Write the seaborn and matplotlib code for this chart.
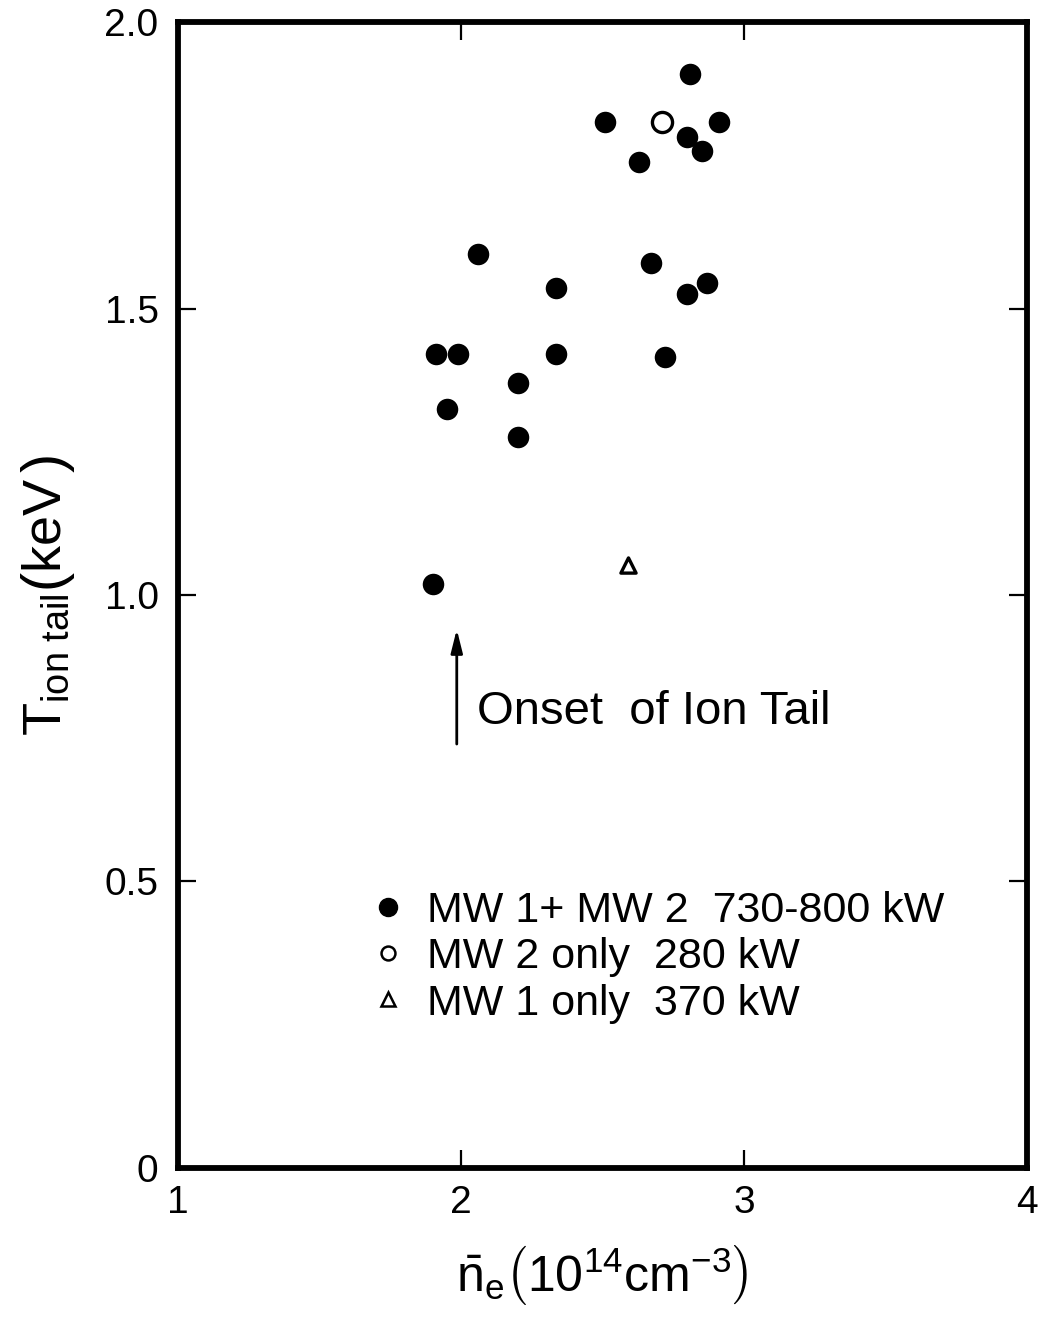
import io
import matplotlib
matplotlib.use("Agg")
import matplotlib.pyplot as plt
import seaborn as sns
import pandas as pd
from matplotlib.lines import Line2D
from matplotlib import mathtext

# ---- data ----
ne_both = [1.90, 1.91, 1.99, 1.95, 2.06, 2.20, 2.20, 2.335, 2.335, 2.51,
           2.63, 2.67, 2.72, 2.81, 2.80, 2.85, 2.91, 2.80, 2.87]
T_both = [1.02, 1.42, 1.42, 1.325, 1.595, 1.37, 1.275, 1.535, 1.42, 1.825,
          1.755, 1.58, 1.415, 1.91, 1.80, 1.775, 1.825, 1.525, 1.545]
ne_mw2 = [2.71]
T_mw2 = [1.825]
ne_mw1 = [2.59]
T_mw1 = [1.053]

labels = ["MW 1+ MW 2  730-800 kW", "MW 2 only  280 kW", "MW 1 only  370 kW"]
xticks = [1, 2, 3, 4]
yticks = [0, 0.5, 1.0, 1.5, 2.0]
yticklabels = ["0", "0.5", "1.0", "1.5", "2.0"]

sns.set_style("ticks")
plt.rcParams["font.family"] = ["Liberation Sans", "DejaVu Sans"]
plt.rcParams["mathtext.fontset"] = "custom"
plt.rcParams["mathtext.rm"] = "Liberation Sans"
plt.rcParams["mathtext.it"] = "Liberation Sans"
plt.rcParams["mathtext.sf"] = "Liberation Sans"
for k in ["text.color", "axes.labelcolor", "xtick.color", "ytick.color",
          "axes.edgecolor"]:
    plt.rcParams[k] = "black"


def pick(cands):
    for c in cands:
        try:
            mathtext.math_to_image(c, io.BytesIO(), dpi=50, format="png")
            return c
        except Exception:
            continue
    return cands[-1]


ylab = pick([
    r"$\mathrm{T}_{\mathrm{ion\ tail}}\left(\mathrm{keV}^{\,}_{\,}\right)$",
    r"$\mathrm{T}_{\mathrm{ion\ tail}}\left(\mathrm{keV}\right)$",
])
xlab = pick([
    r"$\bar{\mathrm{n}}_{\mathrm{e}}\left(10^{14}\mathrm{cm}^{-3}_{\,}\right)$",
    r"$\bar{\mathrm{n}}_{\mathrm{e}}\left(10^{14}\mathrm{cm}^{-3}\right)$",
])

fig = plt.figure(figsize=(10.38, 13.2), dpi=100)
ax = fig.add_axes([0.1715, 0.1152, 0.8179, 0.8681])

df_both = pd.DataFrame({"ne": ne_both, "T": T_both})
df_mw2 = pd.DataFrame({"ne": ne_mw2, "T": T_mw2})
df_mw1 = pd.DataFrame({"ne": ne_mw1, "T": T_mw1})

sns.scatterplot(data=df_both, x="ne", y="T", ax=ax, marker="o", s=240,
                color="black", edgecolor="black", linewidth=0, zorder=3)
sns.scatterplot(data=df_mw2, x="ne", y="T", ax=ax, marker="o", s=210,
                facecolor="white", edgecolor="black", linewidth=2.4, zorder=3)
sns.scatterplot(data=df_mw1, x="ne", y="T", ax=ax, marker="^", s=120,
                facecolor="white", edgecolor="black", linewidth=2.4, zorder=3)

ax.set_xlim(1, 4)
ax.set_ylim(0, 2.0)
ax.set_xticks(xticks)
ax.set_xticklabels([str(v) for v in xticks])
ax.set_yticks(yticks)
ax.set_yticklabels(yticklabels)
ax.tick_params(direction="in", top=True, right=True, length=13, width=1.6,
               labelsize=28, pad=12, colors="black")
ax.tick_params(axis="y", pad=14)
for sp in ax.spines.values():
    sp.set_linewidth(4.2)
    sp.set_color("black")

ax.set_xlabel(xlab, fontsize=36, labelpad=16)
ax.set_ylabel(ylab, fontsize=39, labelpad=20)

# arrow + annotation
ax.annotate("", xy=(1.985, 0.945), xytext=(1.985, 0.735),
            arrowprops=dict(arrowstyle="-|>,head_length=1.4,head_width=0.35",
                            color="black", lw=2))
ax.text(2.055, 0.795, "Onset  of Ion Tail", fontsize=34, va="center", ha="left")

handles = [
    Line2D([], [], marker="o", ls="none", markersize=13, markerfacecolor="black",
           markeredgecolor="black"),
    Line2D([], [], marker="o", ls="none", markersize=10, markerfacecolor="white",
           markeredgecolor="black", markeredgewidth=1.8),
    Line2D([], [], marker="^", ls="none", markersize=10, markerfacecolor="white",
           markeredgecolor="black", markeredgewidth=1.8),
]
leg = ax.legend(handles, labels, loc="upper left", bbox_to_anchor=(0.225, 0.242),
                frameon=False, fontsize=31, handlelength=0.9, handletextpad=0.45,
                labelspacing=0.15, borderpad=0, borderaxespad=0)

fig.savefig("out.png", dpi=100, facecolor="white")
